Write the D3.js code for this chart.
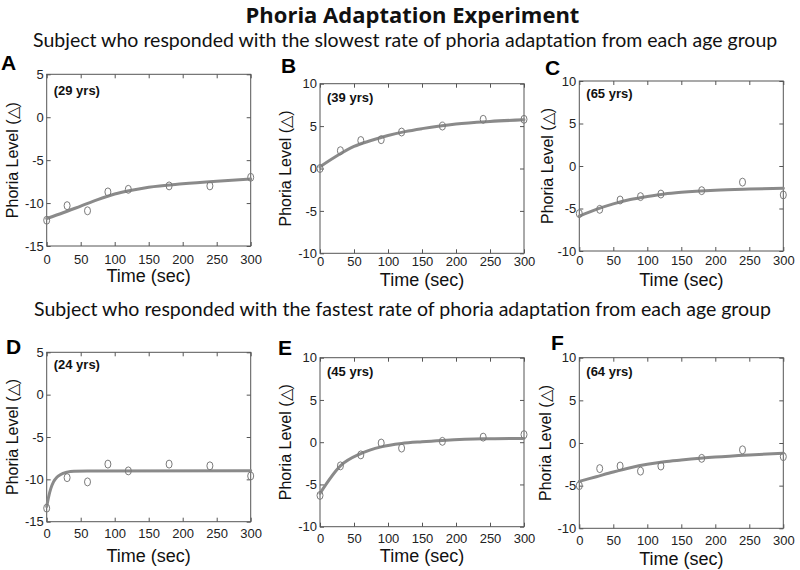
<!DOCTYPE html>
<html><head><meta charset="utf-8">
<script src="https://cdn.jsdelivr.net/npm/d3@7"></script>
<style>body{margin:0;background:#fff} svg{display:block}</style>
</head><body>
<svg id="chart" width="800" height="570"></svg>
<script>
// ---------- data ----------
const titleText = "Phoria Adaptation Experiment";
const subtitleSlow = "Subject who responded with the slowest rate of phoria adaptation from each age group";
const subtitleFast = "Subject who responded with the fastest rate of phoria adaptation from each age group";
const panelLetters = ["A", "B", "C", "D", "E", "F"];
const ageLabels = ["(29 yrs)", "(39 yrs)", "(65 yrs)", "(24 yrs)", "(45 yrs)", "(64 yrs)"];
const xTickValues = [0, 50, 100, 150, 200, 250, 300];
const yTicksLow = [-15, -10, -5, 0, 5];
const yTicksMid = [-10, -5, 0, 5, 10];
const xLabel = "Time (sec)";
const yLabel = "Phoria Level (\u25B3)";

// measured data (time in sec, phoria level)
const measureTimes = [0, 30, 60, 90, 120, 180, 240, 300];
const measA = [-12.0, -10.3, -10.9, -8.7, -8.4, -8.0, -8.0, -7.0];
const measB = [0.0, 2.1, 3.3, 3.4, 4.3, 5.0, 5.8, 5.8];
const measC = [-5.6, -5.1, -4.0, -3.6, -3.3, -2.9, -1.9, -3.4];
const measD = [-13.4, -9.8, -10.3, -8.2, -9.0, -8.2, -8.4, -9.6];
const measE = [-6.3, -2.8, -1.5, -0.1, -0.7, 0.1, 0.6, 0.9];
const measF = [-5.0, -3.0, -2.7, -3.3, -2.7, -1.8, -0.8, -1.6];

// fitted curves
const fitTimes = [0, 25, 50, 75, 100, 125, 150, 200, 250, 300];
const fitA = [-11.8, -11.1, -10.35, -9.6, -8.95, -8.5, -8.15, -7.75, -7.45, -7.2];
const fitB = [0.2, 1.5, 2.6, 3.3, 3.9, 4.35, 4.7, 5.25, 5.55, 5.75];
const fitC = [-5.9, -5.1, -4.45, -3.95, -3.6, -3.3, -3.1, -2.85, -2.72, -2.63];
const fitTimesD = [0, 3, 6, 10, 15, 20, 30, 40, 60, 300];
const fitD = [-13.2, -12.0, -11.1, -10.3, -9.75, -9.45, -9.15, -9.03, -9.0, -8.97];
const fitTimesE = [0, 30, 60, 90, 120, 150, 180, 240, 300];
const fitE = [-6.05, -2.8, -1.35, -0.55, -0.15, 0.05, 0.2, 0.4, 0.45];
const fitF = [-4.5, -3.95, -3.4, -2.9, -2.5, -2.2, -2.0, -1.65, -1.4, -1.2];

const yDomains = [[-15, 5], [-10, 10], [-10, 10], [-15, 5], [-10, 10], [-10, 10]];
const yTickSets = [yTicksLow, yTicksMid, yTicksMid, yTicksLow, yTicksMid, yTicksMid];
const measSets = [measA, measB, measC, measD, measE, measF];
const fitTimeSets = [fitTimes, fitTimes, fitTimes, fitTimesD, fitTimesE, fitTimes];
const fitSets = [fitA, fitB, fitC, fitD, fitE, fitF];

// ---------- layout ----------
const layout = [
  {l: 46.7, t: 74.3, r: 250.7, b: 246, lx: 1, ly: 70, ageY: 95, tickY: 264, timeY: 282, ylx: 12},
  {l: 320, t: 83.7, r: 524, b: 253.3, lx: 281, ly: 73, ageY: 102, tickY: 266, timeY: 286, ylx: 285},
  {l: 579.3, t: 81, r: 783.3, b: 251, lx: 545, ly: 75, ageY: 98, tickY: 265, timeY: 286, ylx: 547},
  {l: 46.7, t: 352.3, r: 250.7, b: 521.7, lx: 6, ly: 354, ageY: 369, tickY: 538, timeY: 562, ylx: 12},
  {l: 320, t: 357.7, r: 524, b: 526.7, lx: 278, ly: 355, ageY: 376, tickY: 543, timeY: 562, ylx: 285},
  {l: 579.3, t: 357.7, r: 783.3, b: 528.3, lx: 551, ly: 350, ageY: 376, tickY: 545, timeY: 565, ylx: 545}
];

const svg = d3.select("#chart");
const titleFont = "'Open Sans', Lato, sans-serif";
const headFont = "Lato, 'Open Sans', sans-serif";
const axFont = "'Liberation Sans', Arial, sans-serif";
const plainNum = d => String(d);

function fitWidth(sel, target) {
  const w = sel.node().getComputedTextLength();
  const fs = parseFloat(sel.attr("font-size"));
  sel.attr("font-size", fs * target / w);
  return fs * target / w;
}

const title = svg.append("text").attr("x", 412.5).attr("y", 23)
  .attr("text-anchor", "middle").attr("font-family", titleFont)
  .attr("font-weight", "bold").attr("font-size", 20).attr("fill", "#111")
  .text(titleText);
fitWidth(title, 334);

const sub1 = svg.append("text").attr("x", 33).attr("y", 47)
  .attr("font-family", headFont).attr("font-size", 17).attr("fill", "#111")
  .text(subtitleSlow);
const subSize = fitWidth(sub1, 745);
svg.append("text").attr("x", 34).attr("y", 316)
  .attr("font-family", headFont).attr("font-size", subSize).attr("fill", "#111")
  .text(subtitleFast);

const tickLen = 4;
const lineColor = "#8a8a8a";

layout.forEach((L, i) => {
  const x = d3.scaleLinear().domain([0, 300]).range([L.l, L.r]);
  const y = d3.scaleLinear().domain(yDomains[i]).range([L.b, L.t]);
  const g = svg.append("g");

  const gb = g.append("g").attr("transform", `translate(0,${L.b})`)
    .call(d3.axisBottom(x).tickValues(xTickValues).tickFormat(plainNum)
      .tickSizeInner(-tickLen).tickSizeOuter(0).tickPadding(L.tickY - L.b - 9.2));
  const gl = g.append("g").attr("transform", `translate(${L.l},0)`)
    .call(d3.axisLeft(y).tickValues(yTickSets[i]).tickFormat(plainNum)
      .tickSizeInner(-tickLen).tickSizeOuter(0).tickPadding(3));
  const gt = g.append("g").attr("transform", `translate(0,${L.t})`)
    .call(d3.axisTop(x).tickValues(xTickValues).tickSizeInner(-tickLen).tickSizeOuter(0).tickFormat(""));
  const gr = g.append("g").attr("transform", `translate(${L.r},0)`)
    .call(d3.axisRight(y).tickValues(yTickSets[i]).tickSizeInner(-tickLen).tickSizeOuter(0).tickFormat(""));
  [gb, gl, gt, gr].forEach(a => {
    a.select(".domain").remove();
    a.selectAll(".tick line").attr("stroke", "#555").attr("stroke-width", 1);
    a.selectAll(".tick text").attr("font-family", axFont).attr("font-size", 13).attr("fill", "#222");
  });

  g.append("rect").attr("x", L.l).attr("y", L.t)
    .attr("width", L.r - L.l).attr("height", L.b - L.t)
    .attr("fill", "none").attr("stroke", "#555").attr("stroke-width", 1);

  const fitData = fitTimeSets[i].map((t, k) => [t, fitSets[i][k]]);
  g.append("path").datum(fitData)
    .attr("d", d3.line().x(d => x(d[0])).y(d => y(d[1])).curve(d3.curveMonotoneX))
    .attr("fill", "none").attr("stroke", lineColor).attr("stroke-width", 3)
    .attr("stroke-linecap", "round");

  g.selectAll("ellipse.pt").data(measureTimes.map((t, k) => [t, measSets[i][k]]))
    .join("ellipse").attr("class", "pt")
    .attr("cx", d => x(d[0])).attr("cy", d => y(d[1]))
    .attr("rx", 3).attr("ry", 4)
    .attr("fill", "none").attr("stroke", "#7a7a7a").attr("stroke-width", 1);

  g.append("text").attr("x", L.l + 7).attr("y", L.ageY)
    .attr("font-family", axFont).attr("font-weight", "bold").attr("font-size", 13)
    .attr("fill", "#111").text(ageLabels[i]);

  g.append("text").attr("x", L.lx).attr("y", L.ly)
    .attr("font-family", axFont).attr("font-weight", "bold").attr("font-size", 21)
    .attr("fill", "#000").text(panelLetters[i]);

  g.append("text").attr("x", (L.l + L.r) / 2).attr("y", L.timeY)
    .attr("text-anchor", "middle").attr("font-family", axFont).attr("font-size", 18)
    .attr("fill", "#111").text(xLabel);

  const cy = (L.t + L.b) / 2;
  g.append("text").attr("transform", `translate(${L.ylx},${cy}) rotate(-90)`)
    .attr("text-anchor", "middle").attr("dy", "0.35em")
    .attr("font-family", axFont).attr("font-size", 16)
    .attr("fill", "#111").text(yLabel);
});
</script>
</body></html>
